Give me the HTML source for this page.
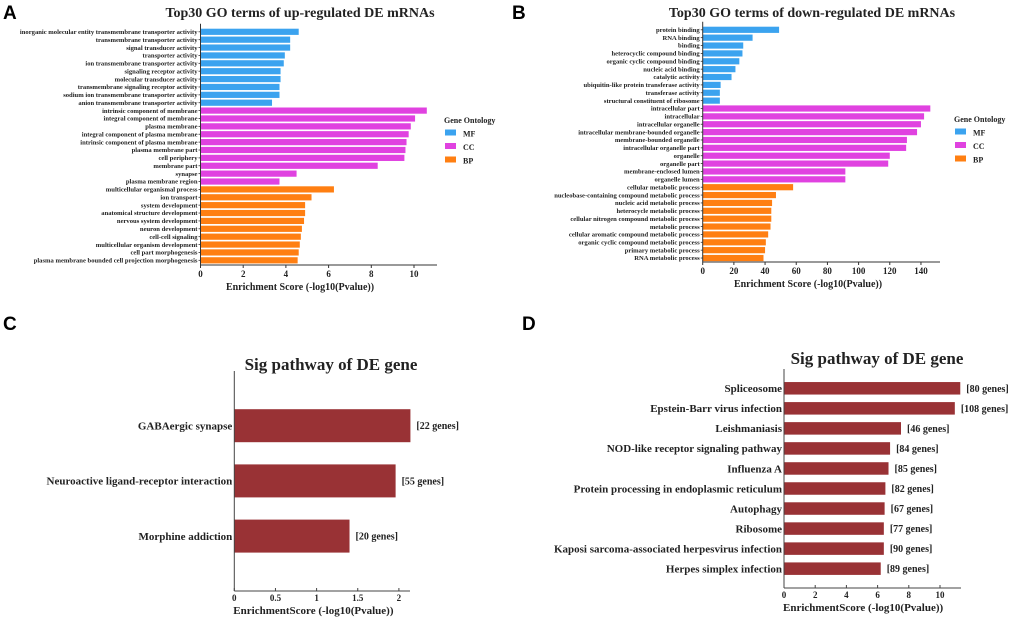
<!DOCTYPE html>
<html><head><meta charset="utf-8"><style>
html,body{margin:0;padding:0;background:#fff}
svg{display:block}
text{font-family:"Liberation Serif",serif;font-weight:bold;fill:#222}
.lt{font-family:"Liberation Sans",sans-serif;font-weight:bold;fill:#000}
</style></head><body>
<svg id="fig" width="1020" height="623" viewBox="0 0 1020 623" xmlns="http://www.w3.org/2000/svg">
<text class="lt" x="3" y="19" font-size="19">A</text>
<text class="lt" x="512" y="19" font-size="19">B</text>
<text class="lt" x="3" y="330" font-size="19">C</text>
<text class="lt" x="522" y="330" font-size="19">D</text>
<text x="300" y="17" font-size="14" text-anchor="middle">Top30 GO terms of up-regulated DE mRNAs</text>
<text x="812" y="17" font-size="14" text-anchor="middle">Top30 GO terms of down-regulated DE mRNAs</text>
<text x="331" y="370" font-size="17" text-anchor="middle">Sig pathway of DE gene</text>
<text x="877" y="364" font-size="17" text-anchor="middle">Sig pathway of DE gene</text>
<g id="ga"></g><g id="gb"></g><g id="gc"></g><g id="gd"></g>
</svg>
<script>
const aTerms=["inorganic molecular entity transmembrane transporter activity","transmembrane transporter activity","signal transducer activity","transporter activity","ion transmembrane transporter activity","signaling receptor activity","molecular transducer activity","transmembrane signaling receptor activity","sodium ion transmembrane transporter activity","anion transmembrane transporter activity","intrinsic component of membrane","integral component of membrane","plasma membrane","integral component of plasma membrane","intrinsic component of plasma membrane","plasma membrane part","cell periphery","membrane part","synapse","plasma membrane region","multicellular organismal process","ion transport","system development","anatomical structure development","nervous system development","neuron development","cell-cell signaling","multicellular organism development","cell part morphogenesis","plasma membrane bounded cell projection morphogenesis"];
const aValues=[4.6,4.2,4.2,3.95,3.9,3.75,3.75,3.7,3.7,3.35,10.6,10.05,9.85,9.75,9.65,9.6,9.55,8.3,4.5,3.7,6.25,5.2,4.9,4.9,4.85,4.75,4.7,4.65,4.6,4.55];
const aTicks=[0,2,4,6,8,10];
const bTerms=["protein binding","RNA binding","binding","heterocyclic compound binding","organic cyclic compound binding","nucleic acid binding","catalytic activity","ubiquitin-like protein transferase activity","transferase activity","structural constituent of ribosome","intracellular part","intracellular","intracellular organelle","intracellular membrane-bounded organelle","membrane-bounded organelle","intracellular organelle part","organelle","organelle part","membrane-enclosed lumen","organelle lumen","cellular metabolic process","nucleobase-containing compound metabolic process","nucleic acid metabolic process","heterocycle metabolic process","cellular nitrogen compound metabolic process","metabolic process","cellular aromatic compound metabolic process","organic cyclic compound metabolic process","primary metabolic process","RNA metabolic process"];
const bValues=[49,32,26,25.5,23.5,21,18.5,11.5,11,11,146,142,140,137.5,131,130.5,120,119,91.5,91.5,58,47,44.5,44,44,43.5,42,40.5,40,39];
const bTicks=[0,20,40,60,80,100,120,140];
const goCats=["MF","CC","BP"];
const cTerms=["GABAergic synapse","Neuroactive ligand-receptor interaction","Morphine addiction"];
const cValues=[2.14,1.96,1.40];
const cGenes=["[22 genes]","[55 genes]","[20 genes]"];
const cTicks=[0,0.5,1,1.5,2];
const dTerms=["Spliceosome","Epstein-Barr virus infection","Leishmaniasis","NOD-like receptor signaling pathway","Influenza A","Protein processing in endoplasmic reticulum","Autophagy","Ribosome","Kaposi sarcoma-associated herpesvirus infection","Herpes simplex infection"];
const dValues=[11.3,10.95,7.5,6.8,6.7,6.5,6.45,6.4,6.4,6.2];
const dGenes=["[80 genes]","[108 genes]","[46 genes]","[84 genes]","[85 genes]","[82 genes]","[67 genes]","[77 genes]","[90 genes]","[89 genes]"];
const dTicks=[0,2,4,6,8,10];

const NS="http://www.w3.org/2000/svg";
function mk(p,tag,at,txt){const e=document.createElementNS(NS,tag);for(const k in at)e.setAttribute(k,at[k]);if(txt!=null)e.textContent=txt;p.appendChild(e);return e;}
const colors={MF:"#3ba3ef",CC:"#e042e0",BP:"#ff7f12"};

function goChart(gid,terms,vals,ticks,x0,pxu,y0,step,axisY,axisEnd,legX,legY,xlabX,pre){
  const g=document.getElementById(gid);
  const sx=v=>x0+v*pxu;
  const sy=i=>y0+i*step;
  vals.forEach((v,i)=>{
    const cat=goCats[Math.floor(i/10)];
    const r=mk(g,'rect',{x:sx(0),y:sy(i)-3.1,width:sx(v)-sx(0),height:6.2,fill:colors[cat]});
    
    
    const t=mk(g,'text',{x:x0-3,y:sy(i)+2.2,'font-size':6.6,'text-anchor':'end'},terms[i]);
    
    
    mk(g,'line',{x1:x0-2,x2:x0,y1:sy(i),y2:sy(i),stroke:'#333','stroke-width':0.8});
  });
  mk(g,'line',{x1:x0,x2:x0,y1:y0-8,y2:axisY,stroke:'#333','stroke-width':1});
  const ax=mk(g,'line',{x1:x0,x2:axisEnd,y1:axisY,y2:axisY,stroke:'#333','stroke-width':1});
  
  
  ticks.forEach(tk=>{
    mk(g,'line',{x1:sx(tk),x2:sx(tk),y1:axisY,y2:axisY+3,stroke:'#333','stroke-width':1});
    const t=mk(g,'text',{x:sx(tk),y:axisY+12,'font-size':9,'text-anchor':'middle'},tk);
    
    
  });
  const xl=mk(g,'text',{x:xlabX,y:axisY+25,'font-size':10,'text-anchor':'middle'},'Enrichment Score (-log10(Pvalue))');
  
  
  const lt=mk(g,'text',{x:legX,y:legY,'font-size':8},'Gene Ontology');
  
  
  goCats.forEach((c,k)=>{
    const y=legY+13.5*(k+1);
    const sw=mk(g,'rect',{x:legX+1,y:y-7,width:11,height:6,fill:colors[c]});
    
    
    const tt=mk(g,'text',{x:legX+19,y:y,'font-size':8},c);
    
    
  });
}
goChart('ga',aTerms,aValues,aTicks,200.5,21.35,31.8,7.88,265,437,444,123,300,'chart-a');
goChart('gb',bTerms,bValues,bTicks,702.7,1.559,29.8,7.87,262,940,954,122,808,'chart-b');

function kegg(gid,terms,vals,genes,ticks,x0,pxu,y0,step,bh,axTop,axisY,axisEnd,fs,pre){
  const g=document.getElementById(gid);
  const sx=v=>x0+v*pxu;
  const sy=i=>y0+i*step;
  vals.forEach((v,i)=>{
    const r=mk(g,'rect',{x:sx(0),y:sy(i)-bh/2,width:sx(v)-sx(0),height:bh,fill:'#993235'});
    
    
    const t=mk(g,'text',{x:x0-2,y:sy(i)+3.8,'font-size':fs,'text-anchor':'end'},terms[i]);
    
    
    const gt=mk(g,'text',{x:sx(v)+6,y:sy(i)+3.5,'font-size':fs-1},genes[i]);
    
    
  });
  mk(g,'line',{x1:x0,x2:x0,y1:axTop,y2:axisY,stroke:'#444','stroke-width':1});
  const ax=mk(g,'line',{x1:x0,x2:axisEnd,y1:axisY,y2:axisY,stroke:'#444','stroke-width':1});
  
  
  ticks.forEach(tk=>{
    mk(g,'line',{x1:sx(tk),x2:sx(tk),y1:axisY,y2:axisY-3,stroke:'#444','stroke-width':1});
    const t=mk(g,'text',{x:sx(tk),y:axisY+10,'font-size':9,'text-anchor':'middle'},tk);
    
    
  });
  const xl=mk(g,'text',{x:x0-1,y:axisY+23,'font-size':11},'EnrichmentScore (-log10(Pvalue))');
  
  
}
kegg('gc',cTerms,cValues,cGenes,cTicks,234.3,82.3,425.7,55.2,33,371,591,410,11,'chart-c');
kegg('gd',dTerms,dValues,dGenes,dTicks,784,15.6,388.3,20.04,12.5,369,588,961,11,'chart-d');
</script>
</body></html>
